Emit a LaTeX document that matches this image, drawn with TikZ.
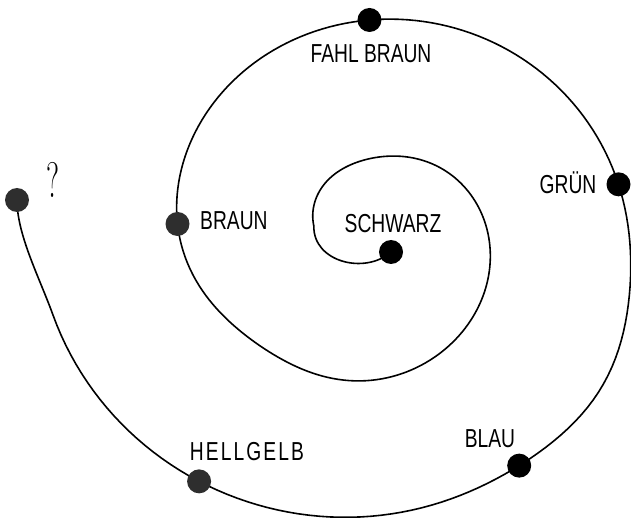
\documentclass[tikz,border=0pt]{standalone}
\usepackage{fontspec}
\newfontfamily\lab[FakeStretch=0.74]{Liberation Sans}
\begin{document}
\begin{tikzpicture}[x=1pt,y=-1pt,
  declare function={
    gb(\t,\c,\w)=exp(-min(((\t-\c)/\w)^2,9));
    spR(\t)=0.39*\t-19.55-6*gb(\t,275,40)-14*gb(\t,495,35)+9*gb(\t,755,20);
    spX(\t)=367.5+spR(\t)*cos(\t);
    spY(\t)=235+0.95*spR(\t)*sin(\t);
  },
  spiral/.style={line width=1.6pt, black},
  dot/.style={circle, fill=black, inner sep=0pt, minimum size=24pt},
  mdot/.style={circle, fill=black!82, inner sep=0pt, minimum size=24pt},
  lbl/.style={inner sep=0pt, font=\lab\fontsize{26}{28}\selectfont}]
\useasboundingbox (0,0) rectangle (631,518);
\coordinate (schwarz) at (391,252);
\coordinate (sp0) at ({spX(190)},{spY(190)});
\coordinate (braun) at ({spX(543.5)},{spY(543.5)});
\coordinate (fahl) at ({spX(630.5)},{spY(630.5)});
\coordinate (gruen) at ({spX(708)},{spY(708)});
\coordinate (blau) at ({spX(778)},{spY(778)});
\coordinate (hell) at ({spX(843)},{spY(843)});
\coordinate (q) at (17,200);
\draw[spiral] (schwarz) .. controls (365,275) and (313,262) .. (sp0)
  -- plot[domain=190:885, samples=350, variable=\t] ({spX(\t)},{spY(\t)})
  .. controls (39.4,277.4) and (17,235) .. (q);
\node[dot] (d-schwarz) at (schwarz) {};
\node[mdot] (d-braun) at (braun) {};
\node[dot] (d-fahl) at (fahl) {};
\node[dot] (d-gruen) at (gruen) {};
\node[dot] (d-blau) at (blau) {};
\node[mdot] (d-hell) at (hell) {};
\node[mdot] (d-q) at (q) {};
\node[lbl, anchor=base] (t-fahl) at (371,63) {FAHL BRAUN};
\node[lbl, anchor=base west] (t-braun) at (200,230) {BRAUN};
\node[lbl, anchor=base] (t-schwarz) at (393,233) {SCHWARZ};
\node[lbl, anchor=base] (t-gruen) at (568,194) {GRÜN};
\node[lbl, anchor=base] (t-blau) at (490,447) {BLAU};
\node[lbl, anchor=base] (t-hell) at (247,460) {\addfontfeature{LetterSpace=8}HELLGELB};
\node[inner sep=0pt, anchor=base, font=\fontsize{50}{52}\selectfont, xscale=0.6] (t-q) at (53,198) {?};
\end{tikzpicture}
\end{document}
